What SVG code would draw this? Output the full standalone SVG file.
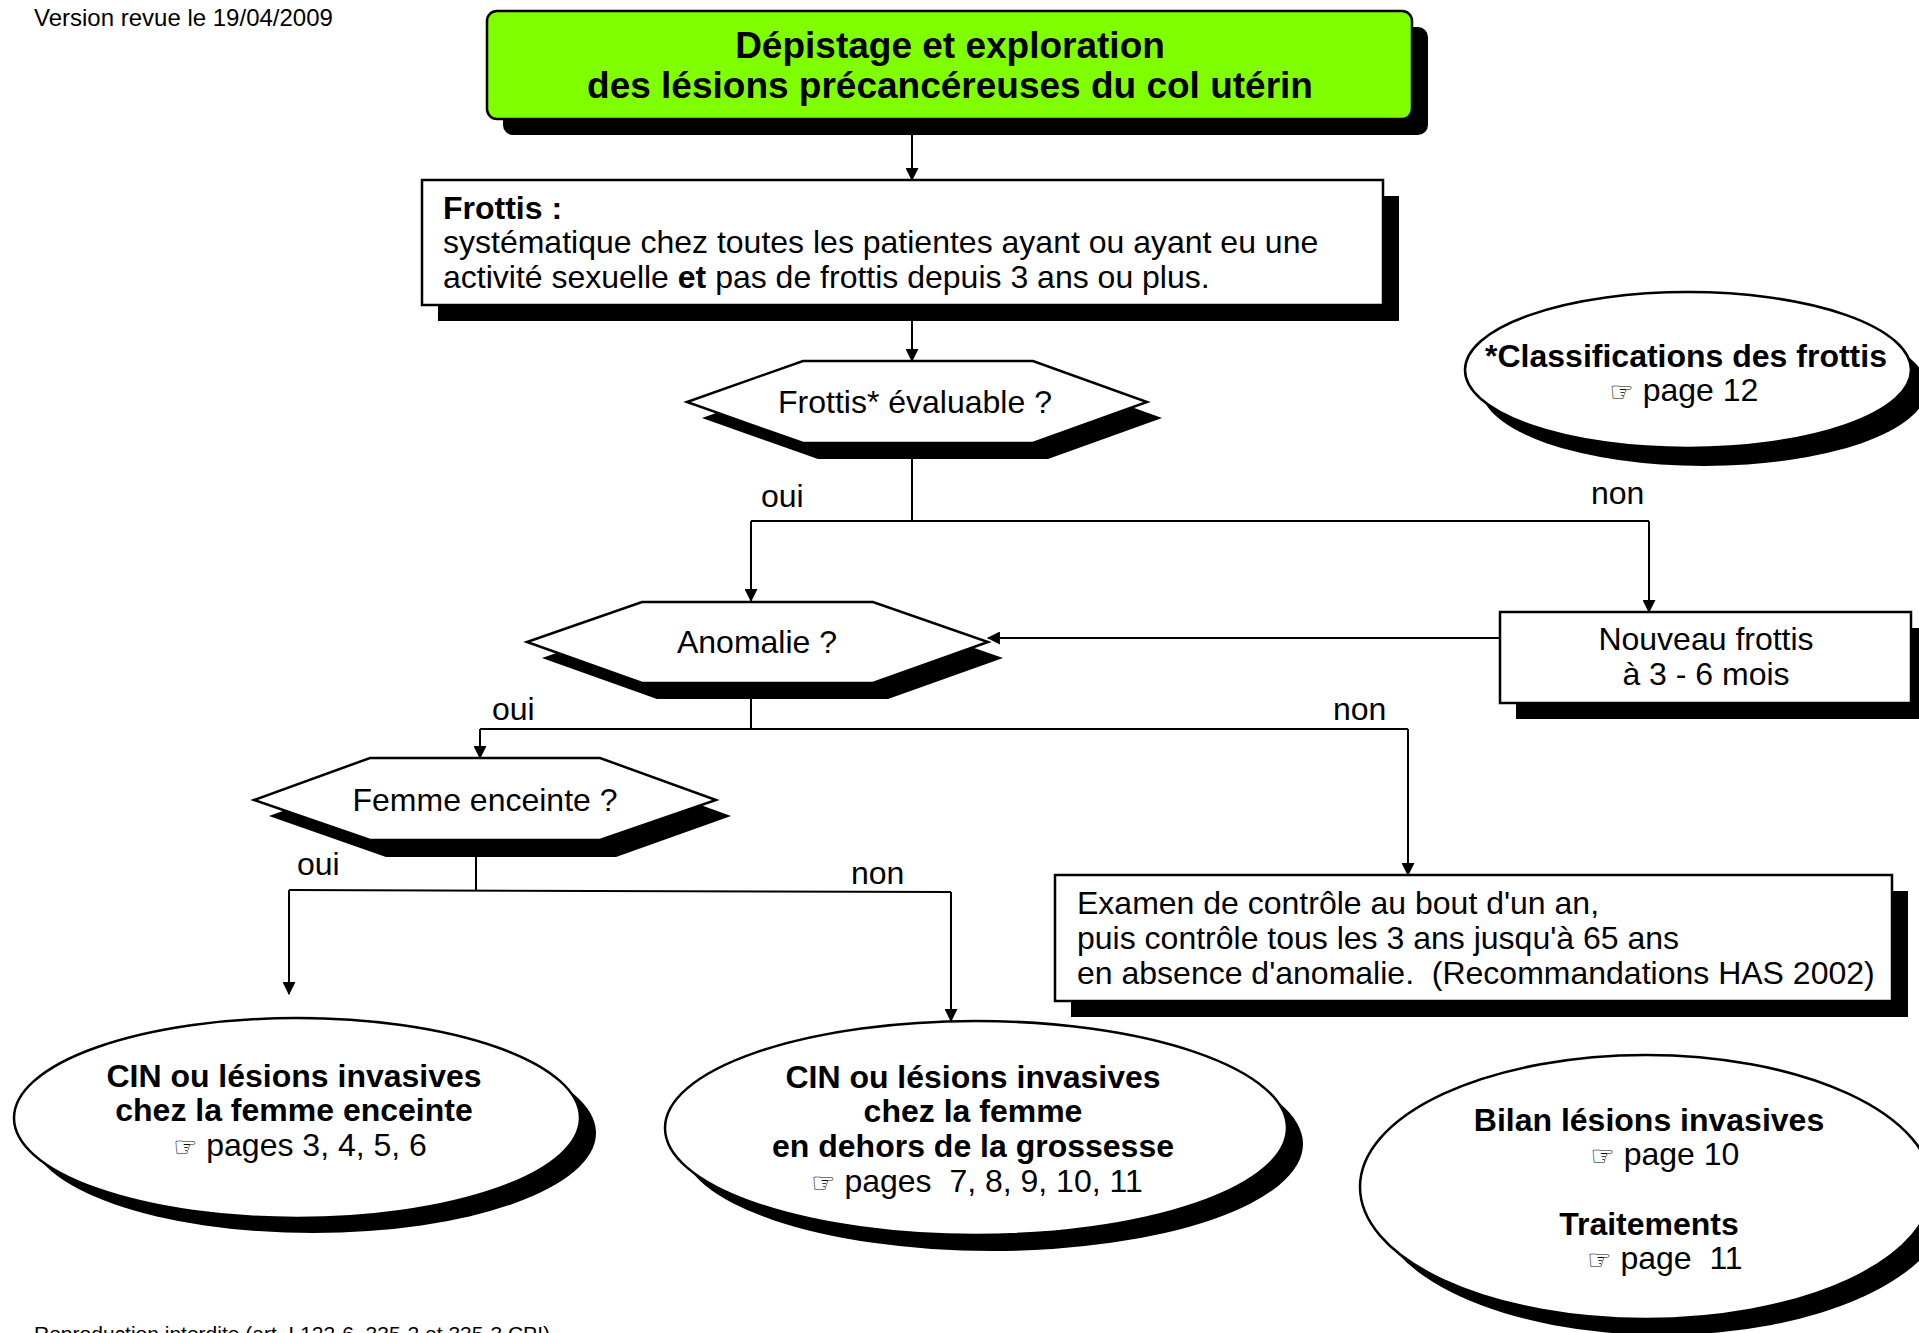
<svg xmlns="http://www.w3.org/2000/svg" width="1919" height="1333" viewBox="0 0 1919 1333">
<defs>
<style>
.t{font-family:"Liberation Sans",Arial,sans-serif;font-size:32px;fill:#000}
.b{font-weight:bold}
.c{text-anchor:middle}
.h{font-family:"DejaVu Sans",sans-serif;font-size:27px}
.sh{fill:#000;stroke:none}
.box{fill:#fff;stroke:#000;stroke-width:2.5}
.ln{fill:none;stroke:#000;stroke-width:2}
</style>
<marker id="arr" viewBox="0 0 12 12" refX="11" refY="6" markerWidth="13" markerHeight="13" markerUnits="userSpaceOnUse" orient="auto">
<path d="M0,0 L12,6 L0,12 z" fill="#000"/>
</marker>
</defs>
<rect width="1919" height="1333" fill="#fff"/>
<text class="t" x="34" y="26" style="font-size:24px">Version revue le 19/04/2009</text>
<text class="t" x="34" y="1341" style="font-size:21px">Reproduction interdite (art. L122-6, 335-2 et 335-3 CPI)</text>

<g id="connectors">
<line class="ln" x1="912" y1="119" x2="912" y2="180" marker-end="url(#arr)"/>
<line class="ln" x1="912" y1="305" x2="912" y2="361" marker-end="url(#arr)"/>
<polyline class="ln" points="912,443 912,521"/>
<line class="ln" x1="751" y1="521" x2="1649" y2="521"/>
<line class="ln" x1="751" y1="521" x2="751" y2="601" marker-end="url(#arr)"/>
<line class="ln" x1="1649" y1="521" x2="1649" y2="612" marker-end="url(#arr)"/>
<line class="ln" x1="1500" y1="638" x2="988" y2="638" marker-end="url(#arr)"/>
<polyline class="ln" points="751,683 751,729"/>
<line class="ln" x1="480" y1="729" x2="1408" y2="729"/>
<line class="ln" x1="480" y1="729" x2="480" y2="758" marker-end="url(#arr)"/>
<line class="ln" x1="1408" y1="729" x2="1408" y2="875" marker-end="url(#arr)"/>
<polyline class="ln" points="476,857 476,890"/>
<line class="ln" x1="289" y1="890" x2="951" y2="892"/>
<line class="ln" x1="289" y1="890" x2="289" y2="994" marker-end="url(#arr)"/>
<line class="ln" x1="951" y1="892" x2="951" y2="1021" marker-end="url(#arr)"/>
<text class="t" x="761" y="507">oui</text>
<text class="t" x="1591" y="504">non</text>
<text class="t" x="492" y="720">oui</text>
<text class="t" x="1333" y="720">non</text>
<text class="t" x="297" y="875">oui</text>
<text class="t" x="851" y="884">non</text>
</g>

<g id="title">
<rect class="sh" x="503" y="27" width="925" height="108" rx="10"/>
<rect x="487" y="11" width="925" height="108" rx="10" fill="#80ff00" stroke="#000" stroke-width="2.5"/>
<text class="t b c" x="950" y="58" style="font-size:37px">Dépistage et exploration</text>
<text class="t b c" x="950" y="98" style="font-size:37px">des lésions précancéreuses du col utérin</text>
</g>

<g id="frottis">
<rect class="sh" x="438" y="196" width="961" height="125"/>
<rect class="box" x="422" y="180" width="961" height="125"/>
<text class="t b" x="443" y="219">Frottis :</text>
<text class="t" x="443" y="253">systématique chez toutes les patientes ayant ou ayant eu une</text>
<text class="t" x="443" y="288">activité sexuelle <tspan class="b">et</tspan> pas de frottis depuis 3 ans ou plus.</text>
</g>

<g id="evaluable">
<polygon class="sh" points="702,418 818,377 1048,377 1162,418 1048,459 818,459"/>
<polygon class="box" points="687,402 803,361 1033,361 1147,402 1033,443 803,443"/>
<text class="t c" x="915" y="413">Frottis* évaluable ?</text>
</g>

<g id="classifications">
<ellipse class="sh" cx="1704" cy="388" rx="223" ry="78"/>
<ellipse class="box" cx="1688" cy="370" rx="223" ry="78"/>
<text class="t b c" x="1686" y="367">*Classifications des frottis</text>
<text class="t c" x="1684" y="401"><tspan class="h">☞</tspan> page 12</text>
</g>

<g id="anomalie">
<polygon class="sh" points="542,658 657,618 888,618 1003,658 888,699 657,699"/>
<polygon class="box" points="527,642 642,602 873,602 988,642 873,683 642,683"/>
<text class="t c" x="757" y="653">Anomalie ?</text>
</g>

<g id="nouveau">
<rect class="sh" x="1516" y="628" width="411" height="91"/>
<rect class="box" x="1500" y="612" width="411" height="91"/>
<text class="t c" x="1706" y="650">Nouveau frottis</text>
<text class="t c" x="1706" y="685">à 3 - 6 mois</text>
</g>

<g id="enceinte">
<polygon class="sh" points="269,816 385,774 615,774 731,816 616,857 386,857"/>
<polygon class="box" points="254,800 370,758 600,758 716,800 600,840 370,840"/>
<text class="t c" x="485" y="811">Femme enceinte ?</text>
</g>

<g id="examen">
<rect class="sh" x="1071" y="891" width="837" height="126"/>
<rect class="box" x="1055" y="875" width="837" height="126"/>
<text class="t" x="1077" y="914">Examen de contrôle au bout d'un an,</text>
<text class="t" x="1077" y="949">puis contrôle tous les 3 ans jusqu'à 65 ans</text>
<text class="t" x="1077" y="984" xml:space="preserve">en absence d'anomalie.  (Recommandations HAS 2002)</text>
</g>

<g id="cin-enceinte">
<ellipse class="sh" cx="313" cy="1133" rx="283" ry="100"/>
<ellipse class="box" cx="297" cy="1118" rx="283" ry="100"/>
<text class="t b c" x="294" y="1087">CIN ou lésions invasives</text>
<text class="t b c" x="294" y="1121">chez la femme enceinte</text>
<text class="t c" x="300" y="1156"><tspan class="h">☞</tspan> pages 3, 4, 5, 6</text>
</g>

<g id="cin-hors">
<ellipse class="sh" cx="992" cy="1144" rx="311" ry="107"/>
<ellipse class="box" cx="976" cy="1128" rx="311" ry="107"/>
<text class="t b c" x="973" y="1088">CIN ou lésions invasives</text>
<text class="t b c" x="973" y="1122">chez la femme</text>
<text class="t b c" x="973" y="1157">en dehors de la grossesse</text>
<text class="t c" x="977" y="1192" xml:space="preserve"><tspan class="h">☞</tspan> pages  7, 8, 9, 10, 11</text>
</g>

<g id="bilan">
<ellipse class="sh" cx="1662" cy="1203" rx="286" ry="132"/>
<ellipse class="box" cx="1646" cy="1187" rx="286" ry="132"/>
<text class="t b c" x="1649" y="1131">Bilan lésions invasives</text>
<text class="t c" x="1665" y="1165"><tspan class="h">☞</tspan> page 10</text>
<text class="t b c" x="1649" y="1235">Traitements</text>
<text class="t c" x="1665" y="1269" xml:space="preserve"><tspan class="h">☞</tspan> page  11</text>
</g>
</svg>
